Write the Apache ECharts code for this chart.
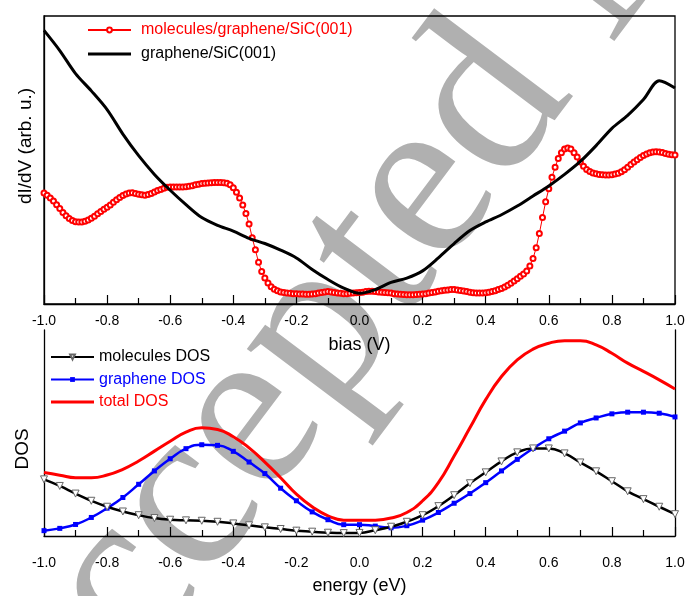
<!DOCTYPE html>
<html><head><meta charset="utf-8">
<script src="https://cdn.jsdelivr.net/npm/echarts@6/dist/echarts.min.js"></script>
<style>html,body{margin:0;padding:0;background:#fff}#c{width:688px;height:596px}</style>
</head><body><div id="c"></div>
<script>
// ---- top panel: dI/dV vs bias ----
const redBiasStart = -1.0;
const redBiasStep = 0.01;
const moleculesGrapheneSiC = [
 38.5,37.8,36.8,35.8,34.5,33.2,31.8,30.6,29.7,29.0,
 28.6,28.5,28.5,28.7,29.2,29.8,30.5,31.3,32.1,32.9,
 33.6,34.4,35.3,36.2,37.0,37.7,38.2,38.5,38.6,38.4,
 38.1,37.9,37.8,38.0,38.4,38.9,39.4,39.8,40.2,40.5,
 40.6,40.6,40.6,40.6,40.6,40.7,40.9,41.1,41.4,41.6,
 41.8,41.9,42.0,42.1,42.2,42.2,42.2,42.1,41.9,41.4,
 40.4,38.8,36.8,34.4,31.4,27.8,23.0,18.8,14.5,11.3,
 9.0,7.3,6.0,5.1,4.6,4.2,4.0,3.8,3.7,3.6,
 3.6,3.5,3.5,3.4,3.4,3.5,3.6,3.8,4.0,4.2,
 4.3,4.2,4.0,3.8,3.7,3.6,3.6,3.7,3.8,3.9,
 4.0,4.1,4.3,4.4,4.4,4.3,4.2,4.1,4.0,3.9,
 3.8,3.6,3.5,3.4,3.3,3.2,3.2,3.2,3.3,3.4,
 3.5,3.6,3.8,4.0,4.2,4.4,4.6,4.8,4.9,5.0,
 5.0,4.9,4.7,4.5,4.3,4.1,3.9,3.8,3.8,3.8,
 3.9,4.1,4.3,4.6,5.0,5.4,5.9,6.5,7.2,8.0,
 8.8,9.6,10.4,11.5,13.2,15.8,19.5,24.5,30.0,35.5,
 40.0,44.0,47.5,50.5,52.5,53.8,54.2,53.8,52.5,51.0,
 49.3,47.8,46.7,46.0,45.5,45.2,45.0,44.9,44.8,44.8,
 44.9,45.1,45.4,45.9,46.6,47.5,48.4,49.3,50.1,50.9,
 51.6,52.1,52.5,52.8,52.9,52.8,52.6,52.3,52.0,51.8,
 51.7
];
const grid05 = [-1.00,-0.95,-0.90,-0.85,-0.80,-0.75,-0.70,-0.65,-0.60,-0.55,
 -0.50,-0.45,-0.40,-0.35,-0.30,-0.25,-0.20,-0.15,-0.10,-0.05,
 0.00,0.05,0.10,0.15,0.20,0.25,0.30,0.35,0.40,0.45,
 0.50,0.55,0.60,0.65,0.70,0.75,0.80,0.85,0.90,0.95,1.00];
const grapheneSiC = [95,88,80,74,67.5,59,51.5,45,39.5,34.5,
 30,27.3,25.3,22.8,21,18.7,16,12,8.5,5.5,
 3.7,5,7.5,9,11.5,16,21,25.5,28.5,31,
 34,37.5,41,45,49.5,55,61,65.5,71,77.5,75];

// ---- bottom panel: DOS vs energy (same 0.05 grid) ----
const moleculesDOS = [27.5,24.3,20.6,17.1,14.2,11.9,10.1,8.7,7.9,7.6,
 7.4,6.9,6.1,5.2,4.2,3.4,2.6,2.1,1.6,1.4,
 1.5,2.8,4.5,6.9,10.1,14.5,19.8,25.6,30.9,36.2,
 40.6,42.5,42.5,40.1,35.7,31.4,26.6,21.7,17.9,14.2,10.6];
const grapheneDOS = [2.6,3.7,5.6,9.0,13.5,18.7,25.1,31.6,37.5,42.4,
 44.3,44.0,41.1,35.9,30.3,23.2,17.1,11.7,7.9,5.5,
 5.5,4.8,4.0,5.0,7.7,11.4,15.9,20.6,25.9,31.6,
 37.2,42.5,47.2,50.9,54.9,57.3,59.3,60.1,60.1,59.6,57.8];
const totalDOS = [30.8,29.5,28.3,28.3,29.6,32.4,36.4,41.2,46.0,50.4,
 52.5,51.7,48.2,42.8,35.9,28.3,20.3,14.2,9.8,7.7,
 7.6,7.7,8.7,11.4,17.1,25.9,38.8,52.5,66.2,77.4,
 85.5,90.7,93.6,94.8,94.8,92.8,88.7,83.9,79.9,75.8,71.4];

const topNames = ['molecules/graphene/SiC(001)', 'graphene/SiC(001)'];
const botNames = ['molecules DOS', 'graphene DOS', 'total DOS'];

const pairs = (xs, ys) => ys.map((v, i) => [xs[i], v]);
const redPairs = moleculesGrapheneSiC.map((v, i) => [+(redBiasStart + i * redBiasStep).toFixed(2), v]);

const FONT = '"Liberation Sans", Arial, sans-serif';
const fmt = v => (Math.abs(v) < 1e-9 ? 0 : v).toFixed(1);
// plain line legend icon (thin bar in a 43x6 box)
const barIcon = h => 'path://M0,0h0.01v0.01h-0.01z M0,' + (3 - h / 2) + 'h43v' + h + 'h-43z M42.99,5.99h0.01v0.01h-0.01z';

function xAxisCfg(gridIndex, name, margin, nameGap) {
  return {
    type: 'value', gridIndex, min: -1, max: 1, interval: 0.2,
    name, nameLocation: 'middle', nameGap,
    nameTextStyle: { fontFamily: FONT, fontSize: 18, color: '#000' },
    axisLine: { show: true, onZero: false, lineStyle: { color: '#000', width: 1.3 } },
    axisTick: { show: true, inside: true, length: 9, lineStyle: { color: '#000', width: 1.2 } },
    minorTick: { show: true, splitNumber: 2, length: 6, lineStyle: { color: '#000', width: 1.2 } },
    axisLabel: { fontFamily: FONT, fontSize: 14, color: '#000', margin, formatter: fmt, showMinLabel: true, showMaxLabel: true },
    splitLine: { show: false }, minorSplitLine: { show: false }
  };
}
function yAxisCfg(gridIndex, position) {
  return {
    type: 'value', gridIndex, min: 0, max: 100, position,
    axisLine: { show: true, onZero: false, lineStyle: { color: '#000', width: 1.3 } },
    axisTick: { show: false }, axisLabel: { show: false }, splitLine: { show: false }
  };
}

const chart = echarts.init(document.getElementById('c'), null, { renderer: 'canvas' });
chart.setOption({
  animation: false,
  backgroundColor: '#fff',
  grid: [
    { left: 44, right: 13, top: 16, height: 288, show: true, borderColor: '#000', borderWidth: 1.3, backgroundColor: 'transparent' },
    { left: 44, right: 13, top: 330, height: 207 }
  ],
  xAxis: [ xAxisCfg(0, 'bias (V)', 10, 32), xAxisCfg(1, 'energy (eV)', 20, 41) ],
  yAxis: [ yAxisCfg(0, 'left'), yAxisCfg(1, 'left'), yAxisCfg(1, 'right') ],
  legend: [
    { orient: 'vertical', left: 82, top: 17, itemWidth: 43, itemHeight: 6, itemGap: 8,
      textStyle: { fontFamily: FONT, fontSize: 16, padding: [0, 0, 0, 5] }, selectedMode: false,
      data: [ { name: topNames[0], textStyle: { color: '#ff0000' } },
              { name: topNames[1], icon: barIcon(3), textStyle: { color: '#000' } } ] },
    { orient: 'vertical', left: 45, top: 344, itemWidth: 43, itemHeight: 6, itemGap: 6.5,
      textStyle: { fontFamily: FONT, fontSize: 16 }, selectedMode: false,
      data: [ { name: botNames[0], textStyle: { color: '#000' } },
              { name: botNames[1], textStyle: { color: '#0000ff' } },
              { name: botNames[2], icon: barIcon(3), textStyle: { color: '#ff0000' } } ] }
  ],
  graphic: [
    { type: 'text', x: -11, y: 768, rotation: 53 * Math.PI / 180, z: -10, silent: true,
      style: { text: 'Accepted Manuscript', font: '236px "Liberation Serif", "Times New Roman", serif', fill: '#b0b0b0', textAlign: 'left', textVerticalAlign: 'middle' } },
    { type: 'text', x: 26, y: 146, rotation: Math.PI / 2, silent: true,
      style: { text: 'dI/dV (arb. u.)', font: '19px "Liberation Sans", Arial, sans-serif', fill: '#000', textAlign: 'center', textVerticalAlign: 'middle' } },
    { type: 'text', x: 23, y: 449, rotation: Math.PI / 2, silent: true,
      style: { text: 'DOS', font: '19px "Liberation Sans", Arial, sans-serif', fill: '#000', textAlign: 'center', textVerticalAlign: 'middle' } }
  ],
  series: [
    { name: topNames[0], type: 'line', xAxisIndex: 0, yAxisIndex: 0, data: redPairs,
      symbol: 'emptyCircle', symbolSize: 5, showAllSymbol: true,
      itemStyle: { color: '#ff0000', borderWidth: 1 }, lineStyle: { color: '#ff0000', width: 1 }, z: 3 },
    { name: topNames[1], type: 'line', xAxisIndex: 0, yAxisIndex: 0, data: pairs(grid05, grapheneSiC),
      symbol: 'none', smooth: 0.3, itemStyle: { color: '#000' }, lineStyle: { color: '#000', width: 3 }, z: 4 },
    { name: botNames[2], type: 'line', xAxisIndex: 1, yAxisIndex: 1, data: pairs(grid05, totalDOS),
      symbol: 'none', smooth: true, itemStyle: { color: '#ff0000' }, lineStyle: { color: '#ff0000', width: 3 } },
    { name: botNames[1], type: 'line', xAxisIndex: 1, yAxisIndex: 1, data: pairs(grid05, grapheneDOS),
      symbol: 'rect', symbolSize: 5, showAllSymbol: true, smooth: true,
      itemStyle: { color: '#0000ff' }, lineStyle: { color: '#0000ff', width: 2.5 } },
    { name: botNames[0], type: 'line', xAxisIndex: 1, yAxisIndex: 1, data: pairs(grid05, moleculesDOS),
      symbol: 'triangle', symbolRotate: 180, symbolSize: 7, showAllSymbol: true, smooth: true,
      itemStyle: { color: '#ffffff', borderColor: '#666', borderWidth: 1 }, lineStyle: { color: '#000', width: 2.5 } }
  ]
});
</script></body></html>
